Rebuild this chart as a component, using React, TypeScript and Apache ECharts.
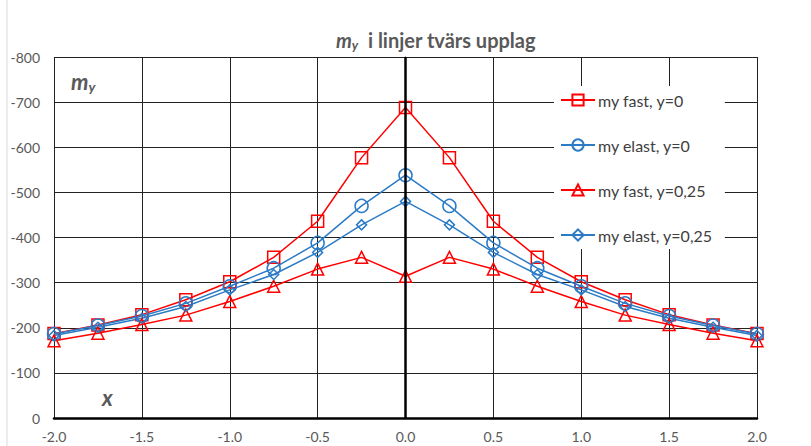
import React, { useEffect, useRef } from "react";
import * as echarts from "echarts";

const xValues = [-2, -1.75, -1.5, -1.25, -1, -0.75, -0.5, -0.25, 0, 0.25, 0.5, 0.75, 1, 1.25, 1.5, 1.75, 2];
const fastY0 = [-187, -206, -229, -262, -302, -356, -436, -577, -688, -577, -436, -356, -302, -262, -229, -206, -187];
const elastY0 = [-186, -205, -226, -254, -292, -332, -388, -470, -538, -470, -388, -332, -292, -254, -226, -205, -186];
const fastY025 = [-171, -188, -207, -228, -258, -292, -330, -356, -314, -356, -330, -292, -258, -228, -207, -188, -171];
const elastY025 = [-183, -201, -221, -247, -284, -318, -367, -428, -480, -428, -367, -318, -284, -247, -221, -201, -183];
const seriesNames = ["my fast, y=0", "my elast, y=0", "my fast, y=0,25", "my elast, y=0,25"];

const RED = "#FF0000";
const BLUE = "#2B7BC6";
const FONT = "Lato, 'Noto Sans', sans-serif";

export default function App() {
  const ref = useRef<HTMLDivElement>(null);
  useEffect(() => {
    if (!ref.current) return;
    const chart = echarts.init(ref.current, null, { renderer: "svg" });
    const mk = (name: string, data: number[], color: string, symbol: string, size: number) => ({
      name,
      type: "line",
      data: xValues.map((x, i) => [x, data[i]]),
      symbol,
      symbolSize: size,
      showAllSymbol: true,
      z: 3,
      lineStyle: { color, width: 1.5 },
      itemStyle: { color: "rgba(255,255,255,0)", borderColor: color, borderWidth: 1.5 },
    });
    chart.setOption({
      animation: false,
      textStyle: { fontFamily: FONT },
      title: {
        text: "{m|m}{s|y}  i linjer tvärs upplag",
        left: 331,
        top: 24,
        textStyle: {
          fontSize: 20,
          fontWeight: "bold",
          color: "#595959",
          fontFamily: FONT,
          rich: {
            m: { fontSize: 20, fontStyle: "italic", fontWeight: "bold", color: "#595959", fontFamily: FONT },
            s: { fontSize: 13, fontStyle: "italic", fontWeight: "bold", color: "#595959", padding: [9, 0, 0, 0], fontFamily: FONT },
          },
        },
      },
      legend: {
        data: seriesNames,
        orient: "vertical",
        left: 554,
        top: 86,
        itemWidth: 34,
        itemHeight: 14,
        itemGap: 29,
        padding: [6, 12, 6, 6],
        backgroundColor: "#ffffff",
        textStyle: { fontSize: 16, color: "#404040", fontFamily: FONT, padding: [0, 0, 0, -2] },
      },
      grid: { left: 54, right: 54, top: 57, bottom: 28, containLabel: false },
      xAxis: {
        type: "value",
        min: -2,
        max: 2,
        interval: 0.5,
        axisLine: { show: true, onZero: false, lineStyle: { color: "#000", width: 2.5 } },
        axisTick: { show: false },
        axisLabel: { formatter: (v: number) => v.toFixed(1), fontSize: 14, color: "#595959", margin: 11, fontFamily: FONT },
        splitLine: { show: true, lineStyle: { color: "#222", width: 1 } },
      },
      yAxis: {
        type: "value",
        min: -800,
        max: 0,
        interval: 100,
        inverse: true,
        axisLine: { show: true, lineStyle: { color: "#222", width: 1 } },
        axisTick: { show: false },
        axisLabel: { fontSize: 14, color: "#595959", margin: 14, fontFamily: FONT },
        splitLine: { show: true, lineStyle: { color: "#222", width: 1 } },
      },
      graphic: [
        { type: "line", shape: { x1: 7, y1: 0, x2: 7, y2: 446 }, style: { stroke: "#d9d9d9", lineWidth: 1 } },
        {
          type: "text",
          left: 71,
          top: 70,
          style: {
            text: "{m|m}{s|y}",
            rich: {
              m: { fontSize: 22, fontStyle: "italic", fontWeight: "bold", fill: "#595959", fontFamily: FONT },
              s: { fontSize: 14, fontStyle: "italic", fontWeight: "bold", fill: "#595959", padding: [11, 0, 0, 0], fontFamily: FONT },
            },
          },
        },
        {
          type: "text",
          left: 102,
          top: 386,
          style: { text: "x", fontSize: 22, fontStyle: "italic", fontWeight: "bold", fill: "#595959", fontFamily: FONT },
        },
      ],
      series: [
        {
          name: "zero",
          type: "line",
          data: [],
          z: 1,
          markLine: {
            silent: true,
            symbol: "none",
            label: { show: false },
            lineStyle: { color: "#000", width: 2.5, type: "solid" },
            data: [{ xAxis: 0 }],
          },
        },
        mk(seriesNames[0], fastY0, RED, "rect", 12),
        mk(seriesNames[1], elastY0, BLUE, "circle", 13),
        mk(seriesNames[2], fastY025, RED, "triangle", 12),
        mk(seriesNames[3], elastY025, BLUE, "diamond", 10),
      ],
    });
    return () => chart.dispose();
  }, []);
  return <div ref={ref} style={{ width: 811, height: 446, position: "absolute", left: 0, top: 0, background: "#fff" }} />;
}
